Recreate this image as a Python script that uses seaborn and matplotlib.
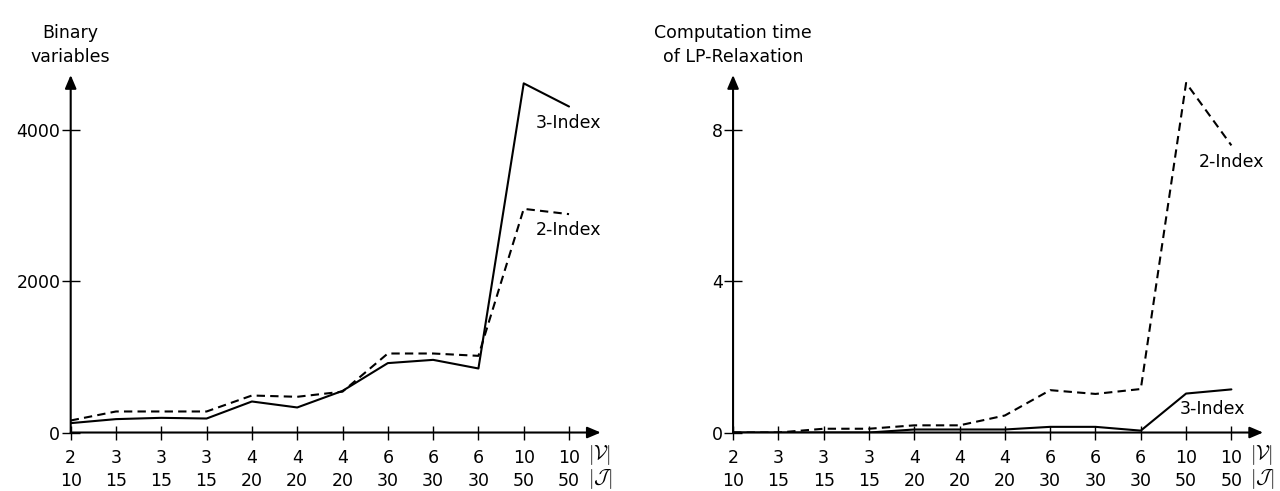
import matplotlib
matplotlib.use("Agg")
import matplotlib.pyplot as plt
import seaborn as sns

# instance sizes (x axis)
n_vehicles = [2, 3, 3, 3, 4, 4, 4, 6, 6, 6, 10, 10]
n_jobs = [10, 15, 15, 15, 20, 20, 20, 30, 30, 30, 50, 50]

# number of binary variables
binvars_3idx = [124, 177, 194, 185, 410, 331, 550, 917, 960, 846, 4613, 4307]
binvars_2idx = [159, 278, 278, 278, 489, 472, 540, 1044, 1044, 1013, 2955, 2885]

# LP relaxation time
lptime_3idx = [0, 0, 0, 0, 0.08, 0.08, 0.08, 0.15, 0.15, 0.05, 1.03, 1.14]
lptime_2idx = [0, 0, 0.1, 0.1, 0.19, 0.19, 0.45, 1.12, 1.02, 1.15, 9.24, 7.59]

sns.set_style("ticks", {"xtick.color": "black", "ytick.color": "black",
                        "text.color": "black", "axes.labelcolor": "black"})
plt.rcParams["font.family"] = ["DejaVu Sans"]
plt.rcParams["mathtext.fontset"] = "cm"
FS = 12.5

idx = list(range(len(n_vehicles)))
xlabels = [f"{v}\n{j}" for v, j in zip(n_vehicles, n_jobs)]

fig = plt.figure(figsize=(12.8, 4.91), dpi=100)
ax1 = fig.add_axes([0.05523, 0.1191, 0.4141, 0.7281])
ax2 = fig.add_axes([0.5727, 0.1191, 0.4141, 0.7281])


def style_axes(ax, ymax, yticks, title):
    for s in ax.spines.values():
        s.set_visible(False)
    ax.set_xlim(0, 11.7)
    ax.set_ylim(0, ymax)
    arrow = dict(arrowstyle="-|>,head_length=0.8,head_width=0.34",
                 lw=1.5, color="black", shrinkA=0, shrinkB=0, mutation_scale=10)
    ax.annotate("", xy=(1, 0), xytext=(0, 0), xycoords="axes fraction", arrowprops=arrow)
    ax.annotate("", xy=(0, 1), xytext=(0, 0), xycoords="axes fraction", arrowprops=arrow)
    ax.set_xticks(idx)
    ax.set_xticklabels(xlabels, fontsize=FS, linespacing=1.35)
    ax.set_yticks(yticks)
    ax.set_yticklabels([str(t) for t in yticks], fontsize=FS)
    ax.tick_params(axis="x", direction="inout", length=9.5, width=1, pad=7, bottom=True)
    ax.tick_params(axis="y", direction="inout", length=13, width=1, pad=1, left=True)
    ax.set_xlabel("")
    ax.set_ylabel("")
    ax.annotate(title, xy=(0, 1), xycoords="axes fraction", xytext=(0, 21.6),
                textcoords="offset points", ha="center", va="center", fontsize=FS,
                linespacing=1.45)
    ax.annotate(r"$|\mathcal{V}|$", xy=(11, 0), xycoords=("data", "axes fraction"),
                xytext=(13.5, -16.5), textcoords="offset points", ha="left", va="center",
                fontsize=14.5)
    ax.annotate(r"$|\mathcal{J}|$", xy=(11, 0), xycoords=("data", "axes fraction"),
                xytext=(13.5, -33.8), textcoords="offset points", ha="left", va="center",
                fontsize=14.5)


sns.lineplot(x=idx, y=binvars_3idx, ax=ax1, color="black", lw=1.5)
sns.lineplot(x=idx, y=binvars_2idx, ax=ax1, color="black", lw=1.5, linestyle=(0, (4, 2.5)))
style_axes(ax1, 4723, [0, 2000, 4000], "Binary\nvariables")
ax1.text(10.26, 4085, "3-Index", fontsize=FS, ha="left", va="center")
ax1.text(10.26, 2675, "2-Index", fontsize=FS, ha="left", va="center")

sns.lineplot(x=idx, y=lptime_3idx, ax=ax2, color="black", lw=1.5)
sns.lineplot(x=idx, y=lptime_2idx, ax=ax2, color="black", lw=1.5, linestyle=(0, (4, 2.5)))
style_axes(ax2, 9.45, [0, 4, 8], "Computation time\nof LP-Relaxation")
ax2.text(10.27, 7.15, "2-Index", fontsize=FS, ha="left", va="center")
ax2.text(9.85, 0.62, "3-Index", fontsize=FS, ha="left", va="center")

fig.savefig("out.png", dpi=100)
